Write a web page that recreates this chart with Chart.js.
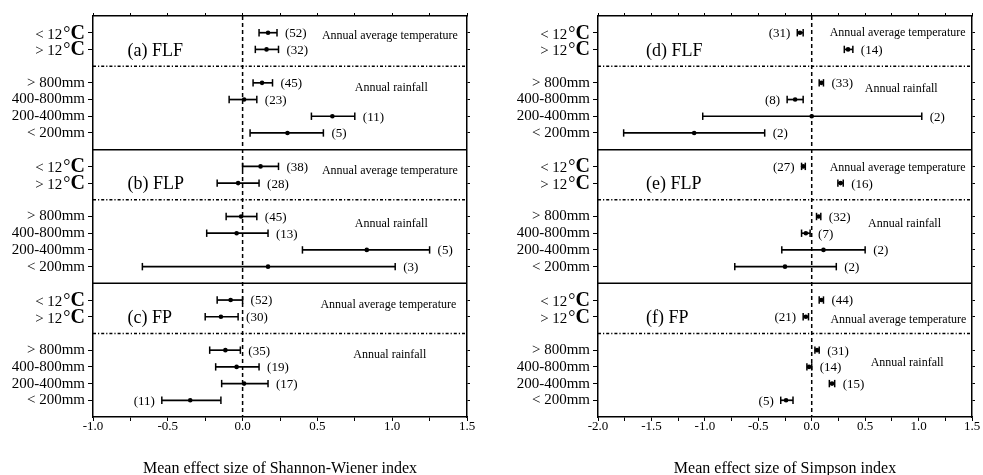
<!DOCTYPE html>
<html>
<head>
<meta charset="utf-8">
<script src="https://cdn.jsdelivr.net/npm/chart.js@4.4.1/dist/chart.umd.min.js"></script>
<style>
  body { margin: 0; background: #fff; }
  #wrap { position: relative; width: 983px; height: 475px; }
  canvas { position: absolute; top: 0; }
</style>
</head>
<body>
<div id="wrap">
  <canvas id="shannon-chart" width="490" height="475" style="left:0"></canvas>
  <canvas id="simpson-chart" width="493" height="475" style="left:490px"></canvas>
</div>
<script>
const rowLabels = ['< 12°C', '> 12°C', '> 800mm', '400-800mm', '200-400mm', '< 200mm'];
const rowSlots = [1, 2, 4, 5, 6, 7]; // slot 3 = dashed divider, 8 = panel edge

const shannonPanels = ['(a) FLF', '(b) FLP', '(c) FP'];
const simpsonPanels = ['(d) FLF', '(e) FLP', '(f) FP'];
const shannonTicks = [-1.0, -0.5, 0.0, 0.5, 1.0, 1.5];
const simpsonTicks = [-2.0, -1.5, -1.0, -0.5, 0.0, 0.5, 1.0, 1.5];

// (a) FLF - Shannon-Wiener
const aMean = [0.17, 0.16, 0.13, 0.01, 0.60, 0.30];
const aLow  = [0.11, 0.085, 0.07, -0.09, 0.46, 0.05];
const aHigh = [0.23, 0.24, 0.20, 0.095, 0.75, 0.54];
const aN    = [52, 32, 45, 23, 11, 5];
// (b) FLP - Shannon-Wiener
const bMean = [0.12, -0.03, -0.01, -0.04, 0.83, 0.17];
const bLow  = [0.0, -0.17, -0.11, -0.24, 0.40, -0.67];
const bHigh = [0.24, 0.11, 0.095, 0.17, 1.25, 1.02];
const bN    = [38, 28, 45, 13, 5, 3];
// (c) FP - Shannon-Wiener
const cMean = [-0.08, -0.145, -0.115, -0.04, 0.01, -0.35];
const cLow  = [-0.17, -0.25, -0.22, -0.18, -0.14, -0.54];
const cHigh = [0.0, -0.03, -0.015, 0.11, 0.17, -0.145];
const cN    = [52, 30, 35, 19, 17, 11];
// (d) FLF - Simpson
const dMean = [-0.11, 0.34, 0.09, -0.155, 0.0, -1.10];
const dLow  = [-0.135, 0.305, 0.07, -0.23, -1.02, -1.76];
const dHigh = [-0.08, 0.385, 0.11, -0.08, 1.03, -0.44];
const dN    = [31, 14, 33, 8, 2, 2];
// (e) FLP - Simpson
const eMean = [-0.08, 0.27, 0.065, -0.055, 0.11, -0.25];
const eLow  = [-0.095, 0.245, 0.045, -0.095, -0.28, -0.72];
const eHigh = [-0.06, 0.295, 0.085, -0.015, 0.50, 0.23];
const eN    = [27, 16, 32, 7, 2, 2];
// (f) FP - Simpson
const fMean = [0.09, -0.055, 0.05, -0.025, 0.19, -0.24];
const fLow  = [0.07, -0.08, 0.03, -0.045, 0.165, -0.29];
const fHigh = [0.11, -0.03, 0.07, 0.0, 0.215, -0.175];
const fN    = [44, 21, 31, 14, 15, 5];

const SERIF = "'Liberation Serif', 'Times New Roman', serif";

let rowValue = (panel, r) => panel * 8 + rowSlots[r];

let buildDatasets = (means, lows, highs) => {
  let sets = [];
  for (let p = 0; p < 3; p++) {
    for (let r = 0; r < 6; r++) {
      let y = rowValue(p, r);
      sets.push({
        data: [{x: lows[p][r], y: y}, {x: highs[p][r], y: y}],
        showLine: true,
        borderColor: '#000',
        borderWidth: 1.7,
        pointStyle: 'line',
        pointRotation: 90,
        pointRadius: 3.7,
        pointBorderColor: '#000',
        pointBorderWidth: 1.5
      });
    }
  }
  let pts = [];
  for (let p = 0; p < 3; p++) {
    for (let r = 0; r < 6; r++) pts.push({x: means[p][r], y: rowValue(p, r)});
  }
  sets.push({
    data: pts,
    showLine: false,
    pointStyle: 'circle',
    pointRadius: 2.3,
    pointBackgroundColor: '#000',
    pointBorderWidth: 0
  });
  return sets;
}

const forestPlugin = {
  id: 'forest',
  beforeDatasetsDraw(chart, args, opts) {
    const ctx = chart.ctx, xs = chart.scales.x, ys = chart.scales.y, a = chart.chartArea;
    ctx.save();
    ctx.strokeStyle = '#000';
    // panel edges
    ctx.lineWidth = 1.5;
    [8, 16].forEach(v => {
      let py = ys.getPixelForValue(v);
      ctx.beginPath(); ctx.moveTo(a.left, py); ctx.lineTo(a.right, py); ctx.stroke();
    });
    // dash-dot dividers between temperature and rainfall groups
    ctx.lineWidth = 1.5;
    ctx.setLineDash([3, 2, 1.2, 2]);
    [3, 11, 19].forEach(v => {
      let py = ys.getPixelForValue(v);
      ctx.beginPath(); ctx.moveTo(a.left, py); ctx.lineTo(a.right, py); ctx.stroke();
    });
    // zero line
    let px = xs.getPixelForValue(0);
    ctx.setLineDash([4, 3]);
    ctx.beginPath(); ctx.moveTo(px, a.top); ctx.lineTo(px, a.bottom); ctx.stroke();
    ctx.restore();
  },
  afterDatasetsDraw(chart, args, opts) {
    const ctx = chart.ctx, xs = chart.scales.x, ys = chart.scales.y, a = chart.chartArea;
    ctx.save();
    ctx.fillStyle = '#000';

    // temperature row labels with the big bold C
    for (let p = 0; p < 3; p++) {
      for (let r = 0; r < 2; r++) {
        let base = ys.getPixelForValue(rowValue(p, r)) + 6;
        let right = a.left - 8;
        ctx.textAlign = 'left';
        ctx.textBaseline = 'alphabetic';
        ctx.font = 'bold 20px ' + SERIF;
        let wC = ctx.measureText('C').width;
        ctx.fillText('C', right - wC, base);
        ctx.font = '18px ' + SERIF;
        let wD = ctx.measureText('°').width;
        ctx.fillText('°', right - wC - wD, base);
        ctx.font = '15px ' + SERIF;
        let txt = rowLabels[r].slice(0, 4);
        let wT = ctx.measureText(txt).width;
        ctx.fillText(txt, right - wC - wD - wT - 1, base);
      }
    }

    // sample sizes
    ctx.font = '13px ' + SERIF;
    ctx.textBaseline = 'middle';
    for (let p = 0; p < 3; p++) {
      for (let r = 0; r < 6; r++) {
        let py = ys.getPixelForValue(rowValue(p, r)) + 1;
        let label = '(' + opts.counts[p][r] + ')';
        if (opts.leftSide[p].includes(r)) {
          ctx.textAlign = 'right';
          ctx.fillText(label, xs.getPixelForValue(opts.lows[p][r]) - 7, py);
        } else {
          ctx.textAlign = 'left';
          ctx.fillText(label, xs.getPixelForValue(opts.highs[p][r]) + 8, py);
        }
      }
    }

    // panel names
    ctx.textAlign = 'left';
    ctx.font = '18px ' + SERIF;
    for (let p = 0; p < 3; p++) {
      ctx.fillText(opts.panels[p], xs.getPixelForValue(opts.nameX), ys.getPixelForValue(p * 8 + 2.1));
    }

    // group notes
    ctx.font = '12px ' + SERIF;
    for (let p = 0; p < 3; p++) {
      ctx.fillText('Annual average temperature', xs.getPixelForValue(opts.tempX[p]), ys.getPixelForValue(p * 8 + opts.tempRow[p]));
      ctx.fillText('Annual rainfall', xs.getPixelForValue(opts.rainX[p]), ys.getPixelForValue(p * 8 + opts.rainRow[p]));
    }
    ctx.restore();
  }
};

let makeChart = (canvasId, cfg) => {
  const rowTicks = (scale) => {
    let t = [];
    for (let p = 0; p < 3; p++) for (let r = 0; r < 6; r++) t.push({value: rowValue(p, r)});
    scale.ticks = t;
  };
  const xTicks = (scale) => {
    let t = [];
    for (let v = cfg.xMin; v <= cfg.xMax + 1e-9; v += 0.25) t.push({value: Math.round(v * 100) / 100});
    scale.ticks = t;
  };
  return new Chart(document.getElementById(canvasId), {
    type: 'scatter',
    plugins: [forestPlugin],
    data: { datasets: buildDatasets(cfg.means, cfg.lows, cfg.highs) },
    options: {
      responsive: false,
      animation: false,
      events: [],
      layout: { padding: 0 },
      scales: {
        x: {
          type: 'linear', position: 'bottom', min: cfg.xMin, max: cfg.xMax,
          afterBuildTicks: xTicks,
          afterFit: (s) => { s.height = 58; },
          grid: { drawOnChartArea: false, tickLength: 4, color: '#000', lineWidth: 1 },
          border: { color: '#000', width: 1.5 },
          ticks: {
            padding: -1, color: '#000', maxRotation: 0, autoSkip: false,
            font: { family: SERIF, size: 13, lineHeight: 1 },
            callback: (v) => cfg.xLabels.some(l => Math.abs(l - v) < 1e-6) ? v.toFixed(1) : ''
          },
          title: {
            display: true, text: cfg.title, color: '#000',
            font: { family: SERIF, size: 16, lineHeight: 1 }, padding: { top: 0, bottom: -2 }
          }
        },
        x2: {
          type: 'linear', position: 'top', min: cfg.xMin, max: cfg.xMax,
          afterBuildTicks: xTicks,
          afterFit: (s) => { s.height = 16; },
          grid: { drawOnChartArea: false, tickLength: 3, color: '#000' },
          border: { color: '#000', width: 1.5 },
          ticks: { callback: () => '', padding: 0 }
        },
        y: {
          type: 'linear', position: 'left', min: 0, max: 24, reverse: true,
          afterBuildTicks: rowTicks,
          afterFit: (s) => { s.width = cfg.yWidth; },
          grid: { drawOnChartArea: false, tickLength: 5, color: '#000' },
          border: { color: '#000', width: 1.5 },
          ticks: {
            padding: 3, color: '#000', autoSkip: false,
            font: { family: SERIF, size: 15 },
            callback: (v) => {
              let r = rowSlots.indexOf(v % 8);
              return r < 2 ? '' : rowLabels[r];
            }
          }
        },
        y2: {
          type: 'linear', position: 'right', min: 0, max: 24, reverse: true,
          afterBuildTicks: rowTicks,
          afterFit: (s) => { s.width = cfg.rightWidth; },
          grid: { drawOnChartArea: false, tickLength: 3, color: '#000' },
          border: { color: '#000', width: 1.5 },
          ticks: { callback: () => '', padding: 0 }
        }
      },
      plugins: {
        legend: { display: false },
        tooltip: { enabled: false },
        forest: {
          counts: cfg.counts, lows: cfg.lows, highs: cfg.highs, leftSide: cfg.leftSide,
          panels: cfg.panels, nameX: cfg.nameX,
          tempX: cfg.tempX, tempRow: cfg.tempRow, rainX: cfg.rainX, rainRow: cfg.rainRow
        }
      }
    }
  });
}

const shannonChart = makeChart('shannon-chart', {
  xMin: -1.0, xMax: 1.5, xLabels: shannonTicks,
  title: 'Mean effect size of Shannon-Wiener index',
  yWidth: 93, rightWidth: 23,
  means: [aMean, bMean, cMean], lows: [aLow, bLow, cLow], highs: [aHigh, bHigh, cHigh],
  counts: [aN, bN, cN], leftSide: [[], [], [5]],
  panels: shannonPanels, nameX: -0.77,
  tempX: [0.53, 0.53, 0.52], tempRow: [1.2, 1.28, 1.27],
  rainX: [0.75, 0.75, 0.74], rainRow: [4.3, 4.46, 4.28]
});

const simpsonChart = makeChart('simpson-chart', {
  xMin: -2.0, xMax: 1.5, xLabels: simpsonTicks,
  title: 'Mean effect size of Simpson index',
  yWidth: 108, rightWidth: 11,
  means: [dMean, eMean, fMean], lows: [dLow, eLow, fLow], highs: [dHigh, eHigh, fHigh],
  counts: [dN, eN, fN], leftSide: [[0, 3], [0], [1, 5]],
  panels: simpsonPanels, nameX: -1.55,
  tempX: [0.168, 0.168, 0.175], tempRow: [1.0, 1.08, 2.17],
  rainX: [0.496, 0.527, 0.552], rainRow: [4.35, 4.43, 4.78]
});
</script>
</body>
</html>
